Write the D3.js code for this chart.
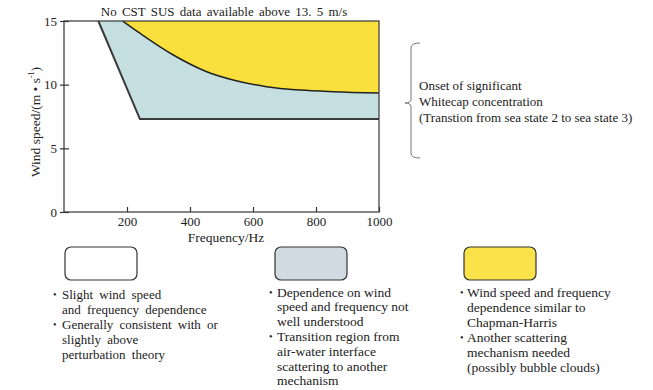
<!DOCTYPE html>
<html>
<head>
<meta charset="utf-8">
<script src="https://cdn.jsdelivr.net/npm/d3@7"></script>
<style>
  body { margin: 0; background: #fff; }
  svg text { font-family: "Liberation Serif", "Times New Roman", serif; fill: #222; }
</style>
</head>
<body>
<div id="chart"></div>
<script>
// axis ticks
const freqTicks = [200, 400, 600, 800, 1000];
const windTicks = [0, 5, 10, 15];

// lower edge of the transition region (Hz, m/s)
const lowerFreq = [109, 241, 1000];
const lowerWind = [15, 7.3, 7.3];

// curve between the transition region and the bubble region
const upperFreq = [186, 241, 347, 453, 537, 643, 749, 855, 1000];
const upperWind = [15, 14.04, 12.33, 11.02, 10.37, 9.84, 9.58, 9.45, 9.35];

const title = 'No CST SUS data available above 13. 5 m/s';
const braceLines = ['Onset of significant', 'Whitecap concentration', '(Transtion from sea state 2 to sea state 3)'];

const legendColors = ['#ffffff', '#cfdbe1', '#f9e24a'];
const legendTexts = [
  [['•', 'Slight  wind  speed'], ['', 'and  frequency  dependence'], ['•', 'Generally  consistent  with  or'], ['', 'slightly  above'], ['', 'perturbation  theory']],
  [['•', 'Dependence on wind'], ['', 'speed and frequency not'], ['', 'well understood'], ['•', 'Transition region from'], ['', 'air-water interface'], ['', 'scattering to another'], ['', 'mechanism']],
  [['•', 'Wind speed and frequency'], ['', 'dependence similar to'], ['', 'Chapman-Harris'], ['•', 'Another scattering'], ['', 'mechanism needed'], ['', '(possibly bubble clouds)']]
];

const width = 653;
const height = 390;
const plot = {left: 64, right: 379, top: 21, bottom: 212};

const svg = d3.select('#chart')
  .append('svg')
    .attr('viewBox', [0, 0, width, height])
    .attr('width', width)
    .attr('height', height);

const x = d3.scaleLinear().domain([0, 1000]).range([plot.left, plot.right]);
const y = d3.scaleLinear().domain([0, 15]).range([plot.bottom, plot.top]);

const lowerPts = lowerFreq.map((f, i) => [f, lowerWind[i]]);
const upperPts = upperFreq.map((f, i) => [f, upperWind[i]]);

const line = d3.line().x(d => x(d[0])).y(d => y(d[1]));
const curve = d3.line().x(d => x(d[0])).y(d => y(d[1])).curve(d3.curveMonotoneX);

// transition region (blue)
svg.append('path')
  .attr('d', line(lowerPts.concat([[1000, 15]])) + 'Z')
  .attr('fill', '#c5dfe0');

// bubble region (yellow)
svg.append('path')
  .attr('d', curve(upperPts) + `L${x(1000)},${y(15)}Z`)
  .attr('fill', '#f9e03c');

svg.append('path')
  .attr('d', line(lowerPts))
  .attr('fill', 'none')
  .attr('stroke', '#3a3a3a')
  .attr('stroke-width', 2);

svg.append('path')
  .attr('d', curve(upperPts))
  .attr('fill', 'none')
  .attr('stroke', '#222')
  .attr('stroke-width', 1.5);

// frame
svg.append('rect')
  .attr('x', plot.left)
  .attr('y', plot.top)
  .attr('width', plot.right - plot.left)
  .attr('height', plot.bottom - plot.top)
  .attr('fill', 'none')
  .attr('stroke', '#444')
  .attr('stroke-width', 1.3);

const xAxis = svg.append('g')
  .attr('transform', `translate(0, ${plot.bottom})`)
  .call(d3.axisBottom(x).tickValues(freqTicks).tickFormat(d3.format('d'))
    .tickSizeInner(-5).tickSizeOuter(0).tickPadding(5));

const yAxis = svg.append('g')
  .attr('transform', `translate(${plot.left}, 0)`)
  .call(d3.axisLeft(y).tickValues(windTicks).tickFormat(d3.format('d'))
    .tickSizeInner(-5).tickSizeOuter(0).tickPadding(7));

[xAxis, yAxis].forEach(g => {
  g.select('.domain').remove();
  g.selectAll('.tick line').attr('stroke', '#333').attr('stroke-width', 1.2);
  g.selectAll('.tick text')
    .attr('font-family', '"Liberation Serif", serif')
    .attr('font-size', 13)
    .attr('fill', '#222');
});
yAxis.selectAll('.tick line').attr('x1', -4);

svg.append('text')
  .attr('x', 224)
  .attr('y', 16)
  .attr('text-anchor', 'middle')
  .attr('font-size', 13)
  .attr('word-spacing', 2)
  .text(title);

svg.append('text')
  .attr('x', 226)
  .attr('y', 242)
  .attr('text-anchor', 'middle')
  .attr('font-size', 13.5)
  .text('Frequency/Hz');

const yLabel = svg.append('text')
  .attr('transform', 'translate(40, 122) rotate(-90)')
  .attr('text-anchor', 'middle')
  .attr('font-size', 13.5);
yLabel.append('tspan').text('Wind speed/(m • s');
yLabel.append('tspan').attr('font-size', 8).attr('dy', -6).text('-1');
yLabel.append('tspan').attr('dy', 6).text(')');

// brace
const brace = {x: 411, top: 43, bottom: 158, tip: 103};
svg.append('path')
  .attr('d', `M${brace.x + 9},${brace.top} Q${brace.x},${brace.top} ${brace.x},${brace.top + 5}
              L${brace.x},${brace.tip - 4} Q${brace.x},${brace.tip} ${brace.x - 6},${brace.tip}
              Q${brace.x},${brace.tip} ${brace.x},${brace.tip + 4}
              L${brace.x},${brace.bottom - 5} Q${brace.x},${brace.bottom} ${brace.x + 9},${brace.bottom}`)
  .attr('fill', 'none')
  .attr('stroke', '#777')
  .attr('stroke-width', 1);

svg.append('g')
  .selectAll('text')
  .data(braceLines)
  .join('text')
    .attr('x', 419)
    .attr('y', (d, i) => 90 + i * 16)
    .attr('font-size', 13)
    .text(d => d);

// legend boxes
const legendX = [65, 275, 464];
const legend = svg.append('g')
  .selectAll('g')
  .data(legendColors)
  .join('g')
    .attr('transform', (d, i) => `translate(${legendX[i]}, 247)`);

legend.append('rect')
  .attr('width', 72)
  .attr('height', 33)
  .attr('rx', 6)
  .attr('fill', d => d)
  .attr('stroke', '#333')
  .attr('stroke-width', 1.2);

const textSizes = [13, 13.5, 13.5];
const textLead = [15, 14.8, 15];
const textTop = [299, 296.5, 296.5];
const bulletX = [53, 269, 460];
const textX = [62, 277, 467];
const spacing = [3, 0, 0];

legendTexts.forEach((lines, k) => {
  const g = svg.append('g');
  lines.forEach((ln, i) => {
    const yy = textTop[k] + i * textLead[k];
    if (ln[0]) {
      g.append('text')
        .attr('x', bulletX[k])
        .attr('y', yy - 1)
        .attr('font-size', 10)
        .text(ln[0]);
    }
    g.append('text')
      .attr('x', textX[k])
      .attr('y', yy)
      .attr('font-size', textSizes[k])
      .attr('word-spacing', spacing[k])
      .text(ln[1]);
  });
});
</script>
</body>
</html>
